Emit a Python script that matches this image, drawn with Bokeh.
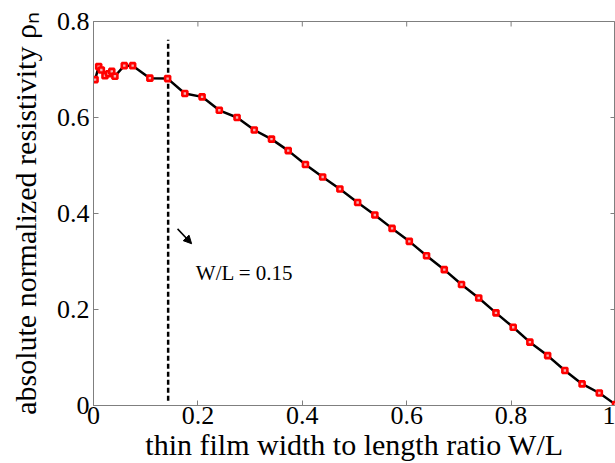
import math
from bokeh.plotting import figure
from bokeh.embed import file_html
from bokeh.resources import INLINE
from bokeh.models import (Range1d, FixedTicker, PrintfTickFormatter,
                          Label, Arrow, NormalHead)

# ---- data ----
ratio_wl = [0.003, 0.010, 0.015, 0.022, 0.029, 0.035, 0.041, 0.059, 0.075, 0.108,
            0.142, 0.175, 0.208, 0.241, 0.275, 0.308, 0.341, 0.373, 0.406, 0.439,
            0.472, 0.506, 0.539, 0.572, 0.605, 0.638, 0.672, 0.705, 0.738, 0.771,
            0.804, 0.836, 0.870, 0.903, 0.936, 0.969, 1.000]
rho_n = [0.679, 0.706, 0.699, 0.687, 0.691, 0.696, 0.686, 0.708, 0.708, 0.682,
         0.681, 0.650, 0.643, 0.615, 0.600, 0.574, 0.555, 0.531, 0.502, 0.476,
         0.451, 0.423, 0.397, 0.369, 0.342, 0.312, 0.283, 0.252, 0.224, 0.193,
         0.163, 0.132, 0.104, 0.073, 0.045, 0.026, 0.002]
x_ticks = [0, 0.2, 0.4, 0.6, 0.8, 1.0]
y_ticks = [0, 0.2, 0.4, 0.6, 0.8]
x_min, x_max = 0, 1
y_min, y_max = 0, 0.8
cutoff_x = 0.143
cutoff_bottom = 0.01
cutoff_top = 0.762
annotation_text = "W/L = 0.15"

AX = "#7f7f7f"
SERIF = "Liberation Serif"

p = figure(width=615, height=463, output_backend="svg", toolbar_location=None,
           x_range=Range1d(x_min, x_max), y_range=Range1d(y_min, y_max),
           x_axis_label="thin film width to length ratio W/L",
           y_axis_label="absolute normalized resistivity ρₙ",
           min_border_left=93, min_border_top=21, min_border_right=0,
           min_border_bottom=58)
p.grid.visible = False
p.outline_line_color = AX
p.background_fill_color = "white"
p.border_fill_color = "white"

for ax, ticks in ((p.xaxis[0], x_ticks), (p.yaxis[0], y_ticks)):
    ax.ticker = FixedTicker(ticks=ticks)
    ax.formatter = PrintfTickFormatter(format="%g")
    ax.major_tick_in = 5
    ax.major_tick_out = 0
    ax.minor_tick_line_color = None
    ax.axis_line_color = AX
    ax.major_tick_line_color = AX
    ax.major_label_text_font = SERIF
    ax.major_label_text_font_size = "26px"
    ax.major_label_text_color = "black"
    ax.axis_label_text_font = SERIF
    ax.axis_label_text_font_size = "30px"
    ax.axis_label_text_font_style = "normal"
    ax.axis_label_text_color = "black"

p.xaxis.major_label_standoff = 1
p.xaxis.axis_label_standoff = 1
p.yaxis.major_label_standoff = 4
p.yaxis.axis_label_standoff = 12

# box ticks on top and right edges (inward halves of dash markers, clipped by frame)
p.scatter(x=x_ticks, y=[y_max] * len(x_ticks), marker="dash", size=10,
          angle=math.pi / 2, line_color=AX, line_width=1)
p.scatter(x=[x_max] * len(y_ticks), y=y_ticks, marker="dash", size=10,
          line_color=AX, line_width=1)

# vertical dashed line at cutoff
p.segment(x0=[cutoff_x], y0=[cutoff_bottom], x1=[cutoff_x], y1=[cutoff_top],
          line_color="black", line_width=2.5, line_dash="5 3")

# data curve
p.line(ratio_wl, rho_n, line_color="black", line_width=2.5)
p.scatter(ratio_wl, rho_n, marker="square", size=5, line_color="red",
          line_width=2.6, fill_color="#f4b0b0")

# annotation arrow and text
p.add_layout(Arrow(end=NormalHead(size=8, fill_color="black", line_color="black"),
                   x_start=0.161, y_start=0.368, x_end=0.188, y_end=0.337,
                   line_color="black", line_width=1.5))
p.add_layout(Label(x=0.196, y=0.277, text=annotation_text, text_font=SERIF,
                   text_font_size="21px", text_color="black",
                   text_baseline="alphabetic"))

open("out.html", "w").write(file_html(p, INLINE))
